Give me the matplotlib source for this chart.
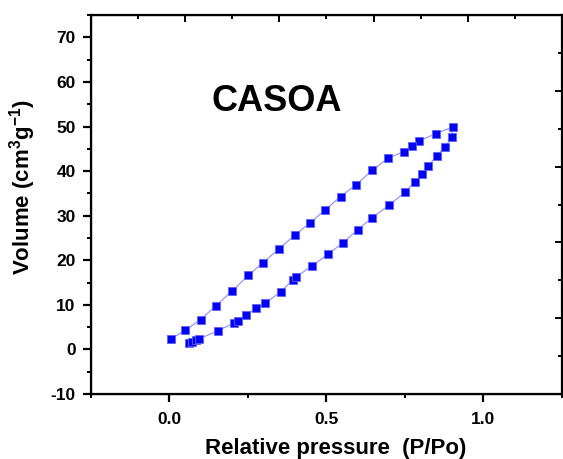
import numpy as np
import matplotlib
matplotlib.use("Agg")
import matplotlib.pyplot as plt
from matplotlib.ticker import MultipleLocator, FormatStrFormatter

plt.rcParams['font.family'] = 'Liberation Sans'
plt.rcParams['font.weight'] = 'bold'
plt.rcParams['axes.unicode_minus'] = False
plt.rcParams['mathtext.fontset'] = 'custom'
plt.rcParams['mathtext.rm'] = 'Liberation Sans:bold'
plt.rcParams['mathtext.bf'] = 'Liberation Sans:bold'
plt.rcParams['mathtext.default'] = 'bf'

# adsorption branch (low -> high pressure)
ads_p = [0.062, 0.073, 0.083, 0.094, 0.155, 0.204, 0.217, 0.244, 0.276, 0.305,
         0.354, 0.393, 0.404, 0.455, 0.504, 0.552, 0.599, 0.646, 0.700, 0.751,
         0.781, 0.804, 0.825, 0.851, 0.877, 0.900]
ads_v = [1.4, 1.75, 2.07, 2.36, 4.2, 5.9, 6.4, 7.8, 9.2, 10.4,
         12.9, 15.6, 16.3, 18.8, 21.3, 23.9, 26.8, 29.6, 32.4, 35.3,
         37.6, 39.4, 41.1, 43.5, 45.4, 47.7]

# desorption branch (high -> low pressure)
des_p = [0.902, 0.848, 0.796, 0.773, 0.747, 0.696, 0.646, 0.595, 0.545, 0.496,
         0.448, 0.400, 0.348, 0.298, 0.251, 0.198, 0.148, 0.099, 0.050, 0.005]
des_v = [49.9, 48.4, 46.8, 45.6, 44.4, 42.9, 40.2, 37.0, 34.3, 31.3,
         28.4, 25.7, 22.5, 19.5, 16.6, 13.0, 9.8, 6.7, 4.3, 2.4]

p = np.array(ads_p + des_p)
v = np.array(ads_v + des_v)

fig = plt.figure(figsize=(5.63, 4.59), dpi=100)
ax = fig.add_axes([0.1616, 0.1416, 0.8364, 0.8254])

ax.plot(p, v, '-', color='#8c8cff', lw=0.8, zorder=2)
ax.plot(p, v, 's', color='#0000ff', ms=5.2, mec='#6060ff', mew=0.6, ls='none', zorder=3)

ax.set_xlim(-0.25, 1.25)
ax.set_ylim(-10, 75)
ax.xaxis.set_major_locator(MultipleLocator(0.5))
ax.xaxis.set_minor_locator(MultipleLocator(0.25))
ax.yaxis.set_major_locator(MultipleLocator(10))
ax.yaxis.set_minor_locator(MultipleLocator(5))
ax.xaxis.set_major_formatter(FormatStrFormatter('%.1f'))

for s in ax.spines.values():
    s.set_linewidth(1.6)

ax.tick_params(which='major', direction='out', length=6, width=1.6, labelsize=12.5)
ax.tick_params(which='minor', direction='out', length=3, width=1.4)
ax.tick_params(axis='y', which='major', pad=5)
ax.tick_params(axis='x', which='major', pad=7)

# mirrored axes on top and right with their own inward ticks
top = ax.twiny()
top.set_xlim(0, 5)
top.xaxis.set_major_locator(MultipleLocator(1))
top.xaxis.set_minor_locator(MultipleLocator(0.5))
top.tick_params(which='both', direction='in', labeltop=False, width=1.4)
top.tick_params(which='major', length=5)
top.tick_params(which='minor', length=3)

right = ax.twinx()
right.set_ylim(0, 5)
right.yaxis.set_major_locator(MultipleLocator(1))
right.yaxis.set_minor_locator(MultipleLocator(0.5))
right.tick_params(which='both', direction='in', labelright=False, width=1.4)
right.tick_params(which='major', length=5)
right.tick_params(which='minor', length=3)

ax.set_xlabel('Relative pressure  (P/Po)', fontsize=16, fontweight='bold')
ax.xaxis.set_label_coords(0.52, -0.117)
ax.set_ylabel('Volume (cm$^{3}$g$^{-1}$)', fontsize=16, fontweight='bold')
ax.yaxis.set_label_coords(-0.112, 0.546)

ax.text(0.341, 55.7, 'CASOA', fontsize=26, fontweight='bold', ha='center', va='center')

fig.savefig('out.png', dpi=100)
